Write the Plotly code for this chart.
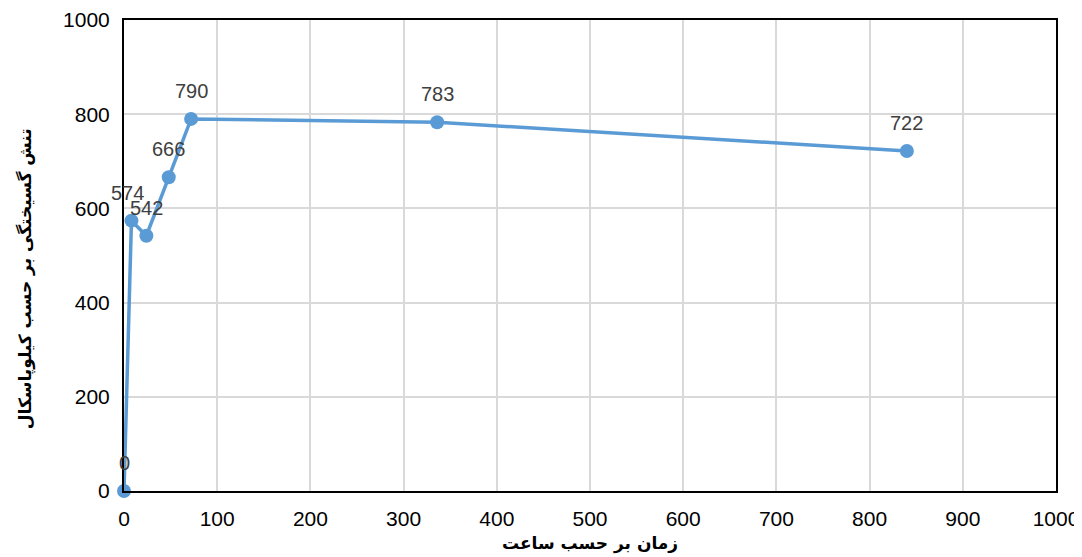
import plotly.graph_objects as go

hours = [0, 8, 24, 48, 72, 336, 840]
stress_kpa = [0, 574, 542, 666, 790, 783, 722]
x_ticks = [0, 100, 200, 300, 400, 500, 600, 700, 800, 900, 1000]
y_ticks = [0, 200, 400, 600, 800, 1000]
x_title = "زمان بر حسب ساعت"
y_title = "تنش گسیختگی بر حسب کیلوپاسکال"
label_xshift = [0, -4, 0, 0, 0, 0, 0]

fig = go.Figure()
fig.add_trace(go.Scatter(
    x=hours, y=stress_kpa,
    mode="lines+markers",
    line=dict(color="#5B9BD5", width=3.5),
    marker=dict(color="#5B9BD5", size=14),
    cliponaxis=False,
    showlegend=False,
))

for h, v, dx in zip(hours, stress_kpa, label_xshift):
    fig.add_annotation(
        x=h, y=v, text=str(v), showarrow=False,
        yshift=28, xshift=dx,
        font=dict(family="Liberation Sans, Arial", size=20, color="#404040"),
    )

# y-axis title (placed slightly below the plot centre, as in the reference)
fig.add_annotation(
    xref="paper", yref="paper", x=-0.106, y=0.45,
    text="<b>" + y_title + "</b>", textangle=-90, showarrow=False,
    xanchor="center", yanchor="middle",
    font=dict(family="DejaVu Sans", size=17, color="black"),
)

axis_common = dict(
    showgrid=True, gridcolor="#D9D9D9", gridwidth=1.5,
    showline=True, linecolor="black", linewidth=2, mirror=True,
    zeroline=False, automargin=False,
    ticks="outside", ticklen=8, tickcolor="rgba(0,0,0,0)",
    tickfont=dict(family="Liberation Sans, Arial", size=21, color="black"),
)

fig.update_xaxes(range=[0, 1000], tickvals=x_ticks, **axis_common,
                 title=dict(text="<b>" + x_title + "</b>", standoff=8,
                            font=dict(family="DejaVu Sans", size=17, color="black")))
fig.update_yaxes(range=[0, 1000], tickvals=y_ticks, **axis_common)

fig.update_layout(
    width=1074, height=549,
    margin=dict(l=116, r=26, t=12, b=66),
    plot_bgcolor="white", paper_bgcolor="white",
)

fig.write_html("out.html")
